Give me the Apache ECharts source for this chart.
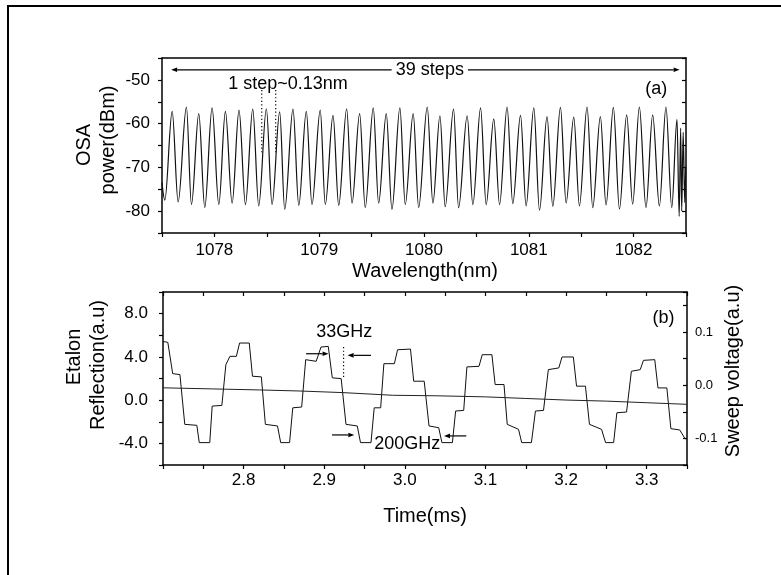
<!DOCTYPE html>
<html>
<head>
<meta charset="utf-8">
<script src="https://cdn.jsdelivr.net/npm/echarts@6/dist/echarts.min.js"></script>
<style>
  html, body { margin: 0; padding: 0; background: #fff; }
  #chart { width: 781px; height: 575px; }
</style>
</head>
<body>
<div id="chart"></div>
<script>
const osaWavelength = [
  1077.500, 1077.527, 1077.597, 1077.654, 1077.733, 1077.781, 1077.851, 1077.908, 1077.978, 1078.042,
  1078.105, 1078.169, 1078.235, 1078.296, 1078.366, 1078.423, 1078.496, 1078.550, 1078.623, 1078.671,
  1078.750, 1078.805, 1078.877, 1078.931, 1079.010, 1079.058, 1079.132, 1079.186, 1079.262, 1079.313,
  1079.386, 1079.439, 1079.516, 1079.567, 1079.640, 1079.694, 1079.770, 1079.821, 1079.897, 1079.949,
  1080.031, 1080.085, 1080.152, 1080.202, 1080.282, 1080.330, 1080.412, 1080.466, 1080.540, 1080.593,
  1080.666, 1080.721, 1080.793, 1080.847, 1080.921, 1080.974, 1081.048, 1081.102, 1081.174, 1081.229,
  1081.302, 1081.356, 1081.429, 1081.483, 1081.556, 1081.610, 1081.683, 1081.737, 1081.807, 1081.865,
  1081.934, 1081.991, 1082.055, 1082.118, 1082.182, 1082.246, 1082.309, 1082.364, 1082.414, 1082.435,
  1082.449, 1082.459, 1082.473, 1082.488, 1082.497
];
const osaPower = [
  -73.5, -77.5, -57.2, -77.9, -56.2, -78.5, -57.7, -79.2, -56.4, -78.5,
  -57.2, -78.2, -56.9, -78.5, -56.7, -78.8, -56.6, -78.5, -57.3, -79.6,
  -56.7, -78.7, -57.2, -78.5, -56.9, -78.5, -58.1, -78.7, -56.6, -78.2,
  -57.7, -79.2, -56.4, -78.2, -57.7, -79.6, -56.4, -78.5, -57.7, -79.2,
  -56.2, -78.2, -58.2, -79.0, -56.7, -79.2, -58.2, -78.5, -56.4, -78.5,
  -58.9, -78.5, -56.2, -78.3, -58.1, -78.8, -56.4, -79.8, -58.4, -78.9,
  -56.3, -78.1, -58.5, -78.8, -56.2, -79.2, -58.4, -78.6, -56.3, -79.5,
  -58.0, -78.4, -56.2, -79.2, -58.0, -78.8, -56.2, -79.2, -59.0, -81.2,
  -61.0, -80.0, -62.0, -78.0, -70.0
];

// (b) etalon reflection (corner points of the stepped trace)
const etalonTime = [
  2.700, 2.706, 2.712, 2.721, 2.727, 2.742, 2.745, 2.758, 2.761, 2.773,
  2.778, 2.783, 2.791, 2.795, 2.807, 2.811, 2.822, 2.827, 2.842, 2.846,
  2.857, 2.861, 2.872, 2.877, 2.890, 2.896, 2.905, 2.910, 2.921, 2.927,
  2.941, 2.945, 2.958, 2.962, 2.970, 2.974, 2.987, 2.991, 3.007, 3.011,
  3.024, 3.030, 3.042, 3.046, 3.059, 3.063, 3.073, 3.077, 3.092, 3.096,
  3.108, 3.112, 3.123, 3.127, 3.141, 3.145, 3.157, 3.162, 3.172, 3.178,
  3.191, 3.195, 3.209, 3.213, 3.224, 3.229, 3.244, 3.249, 3.259, 3.263,
  3.275, 3.281, 3.292, 3.296, 3.310, 3.314, 3.325, 3.330, 3.341, 3.348
];
const etalonValue = [
  5.43, 5.34, 2.45, 2.36, -2.24, -2.33, -3.93, -3.93, -0.55, -0.49,
  3.28, 4.05, 4.05, 5.28, 5.28, 2.21, 2.15, -2.24, -2.39, -3.93,
  -3.93, -0.71, -0.64, 3.74, 3.59, 4.91, 4.97, 2.06, 1.99, -2.24,
  -2.39, -3.93, -3.93, -0.71, -0.71, 3.37, 3.37, 4.66, 4.72, 1.75,
  1.75, -2.39, -2.55, -3.93, -3.93, -1.01, -0.95, 3.07, 3.13, 4.20,
  4.20, 1.44, 1.44, -2.24, -2.70, -3.93, -3.93, -1.01, -0.95, 2.82,
  2.98, 3.99, 3.99, 1.29, 1.29, -2.24, -2.70, -3.93, -3.93, -1.17,
  -1.10, 2.67, 2.82, 3.68, 3.74, 1.13, 1.13, -2.64, -2.76, -3.62
];

// (b) sweep voltage, right axis
const sweepTime = [2.700, 2.760, 2.820, 2.870, 2.923, 2.985, 3.040, 3.100, 3.150, 3.200, 3.250, 3.300, 3.350];
const sweepValue = [-0.005, -0.007, -0.009, -0.011, -0.014, -0.019, -0.020, -0.022, -0.025, -0.028, -0.030, -0.033, -0.036];

// tick labels
const wavelengthLabels = [1078, 1079, 1080, 1081, 1082];
const powerLabels = [-80, -70, -60, -50];
const timeLabels = [2.8, 2.9, 3.0, 3.1, 3.2, 3.3];
const reflectionLabels = [-4, 0, 4, 8];
const sweepLabels = [-0.1, 0, 0.1];

const FONT = 'Liberation Sans';
const chart = echarts.init(document.getElementById('chart'));

function pick(list, digits) {
  return function (v) {
    for (const t of list) {
      if (Math.abs(v - t) < 1e-6) return digits == null ? String(t) : t.toFixed(digits);
    }
    return '';
  };
}

const axisLine = { show: true, onZero: false, lineStyle: { color: '#000', width: 1.5 } };
const labelBase = { color: '#000', fontFamily: FONT, fontSize: 17 };
const tickOut = { show: true, length: 4, lineStyle: { color: '#000', width: 1.2 } };
const tickIn = { show: true, inside: true, length: 4, lineStyle: { color: '#000', width: 1.2 } };

const option = {
  animation: false,
  backgroundColor: '#fff',
  grid: [
    { left: 162, top: 58, right: 95, bottom: 342 },
    { left: 163, top: 292, right: 94, bottom: 110 }
  ],
  xAxis: [
    {
      type: 'value', gridIndex: 0, position: 'bottom',
      min: 1077.5, max: 1082.5, interval: 0.5,
      axisLine: axisLine, axisTick: tickOut,
      axisLabel: { ...labelBase, margin: 9, formatter: pick(wavelengthLabels) },
      splitLine: { show: false }
    },
    {
      type: 'value', gridIndex: 0, position: 'top',
      min: 1077.5, max: 1082.5,
      axisLine: axisLine, axisTick: { show: false }, axisLabel: { show: false },
      splitLine: { show: false }
    },
    {
      type: 'value', gridIndex: 1, position: 'bottom',
      min: 2.7, max: 3.35, interval: 0.05,
      axisLine: axisLine, axisTick: tickOut,
      axisLabel: { ...labelBase, margin: 7, formatter: pick(timeLabels, 1) },
      splitLine: { show: false }
    },
    {
      type: 'value', gridIndex: 1, position: 'top',
      min: 2.7, max: 3.35, interval: 0.05,
      axisLine: axisLine, axisTick: tickIn, axisLabel: { show: false },
      splitLine: { show: false }
    }
  ],
  yAxis: [
    {
      type: 'value', gridIndex: 0, position: 'left',
      min: -85, max: -45, interval: 5,
      axisLine: axisLine, axisTick: tickOut,
      axisLabel: { ...labelBase, margin: 12, formatter: pick(powerLabels) },
      splitLine: { show: false }
    },
    {
      type: 'value', gridIndex: 0, position: 'right',
      min: -85, max: -45, interval: 5,
      axisLine: axisLine, axisTick: tickIn, axisLabel: { show: false },
      splitLine: { show: false }
    },
    {
      type: 'value', gridIndex: 1, position: 'left',
      min: -6, max: 10, interval: 2,
      axisLine: axisLine, axisTick: tickOut,
      axisLabel: { ...labelBase, margin: 15, formatter: pick(reflectionLabels, 1) },
      splitLine: { show: false }
    },
    {
      type: 'value', gridIndex: 1, position: 'right',
      min: -0.15, max: 0.175, interval: 0.05,
      axisLine: axisLine, axisTick: tickIn,
      axisLabel: { ...labelBase, fontSize: 13, margin: 8, formatter: pick(sweepLabels, 1) },
      splitLine: { show: false }
    }
  ],
  series: [
    {
      name: 'OSA', type: 'line', xAxisIndex: 0, yAxisIndex: 0,
      data: osaWavelength.map((w, i) => [w, osaPower[i]]),
      smooth: 0.35, smoothMonotone: 'x', showSymbol: false,
      lineStyle: { color: '#111', width: 1.2 }
    },
    {
      name: 'Etalon', type: 'line', xAxisIndex: 2, yAxisIndex: 2,
      data: etalonTime.map((t, i) => [t, etalonValue[i]]),
      showSymbol: false,
      lineStyle: { color: '#111', width: 1 }
    },
    {
      name: 'Sweep', type: 'line', xAxisIndex: 2, yAxisIndex: 3,
      data: sweepTime.map((t, i) => [t, sweepValue[i]]),
      showSymbol: false,
      lineStyle: { color: '#222', width: 1 }
    }
  ]
};

chart.setOption(option);

// annotations are placed in data units and converted through the axes
const toA = (x, y) => chart.convertToPixel({ seriesIndex: 0 }, [x, y]);
const toB = (x, y) => chart.convertToPixel({ seriesIndex: 1 }, [x, y]);

function text(str, p, size, rotated) {
  const el = {
    type: 'text', x: p[0], y: p[1],
    style: {
      text: str, fill: '#000', font: size + 'px "' + FONT + '"',
      align: 'center', verticalAlign: 'middle'
    }
  };
  if (rotated) el.rotation = Math.PI / 2;
  return el;
}
function arrow(from, to) {
  const dx = to[0] - from[0], dy = to[1] - from[1];
  const len = Math.sqrt(dx * dx + dy * dy), ux = dx / len, uy = dy / len;
  const hl = 6, hw = 2.3;
  const bx = to[0] - ux * hl, by = to[1] - uy * hl;
  return [
    { type: 'line', shape: { x1: from[0], y1: from[1], x2: bx, y2: by }, style: { stroke: '#000', lineWidth: 1.2 } },
    { type: 'polygon', shape: { points: [to, [bx - uy * hw, by + ux * hw], [bx + uy * hw, by - ux * hw]] }, style: { fill: '#000' } }
  ];
}
function dotted(a, b) {
  return { type: 'line', shape: { x1: a[0], y1: a[1], x2: b[0], y2: b[1] }, style: { stroke: '#000', lineWidth: 1.2, lineDash: [1.2, 2.4] } };
}

const graphics = [
  // outer frame
  { type: 'rect', shape: { x: 8, y: 6, width: 800, height: 600 }, style: { fill: 'none', stroke: '#000', lineWidth: 2 } },
  // axis titles
  text('OSA', [84, 145], 20, true),
  text('power(dBm)', [108, 140], 20, true),
  text('Wavelength(nm)', [425, 271], 20),
  text('Etalon', [74, 357], 20, true),
  text('Reflection(a.u)', [98, 365], 20, true),
  text('Sweep voltage(a.u)', [733, 371], 20, true),
  text('Time(ms)', [425, 516], 20),
  // (a) annotations
  ...arrow(toA(1079.691, -47.7), toA(1077.587, -47.7)),
  text('39 steps', toA(1080.056, -47.7), 18),
  ...arrow(toA(1080.419, -47.7), toA(1082.439, -47.7)),
  text('1 step~0.13nm', toA(1078.703, -51.0), 18),
  dotted(toA(1078.452, -52.3), toA(1078.452, -66.8)),
  dotted(toA(1078.585, -52.3), toA(1078.585, -66.8)),
  text('(a)', toA(1082.217, -52.1), 18),
  // (b) annotations
  text('33GHz', toB(2.9249, 6.34), 18),
  ...arrow(toB(2.8775, 4.29), toB(2.9054, 4.29)),
  dotted(toB(2.924, 4.91), toB(2.924, 1.90)),
  ...arrow(toB(2.958, 4.14), toB(2.929, 4.14)),
  text('200GHz', toB(3.003, -4.07), 18),
  ...arrow(toB(2.9097, -3.22), toB(2.9373, -3.22)),
  ...arrow(toB(3.0762, -3.31), toB(3.0486, -3.31)),
  text('(b)', toB(3.3209, 7.58), 18)
];

chart.setOption({ graphic: graphics });
</script>
</body>
</html>
